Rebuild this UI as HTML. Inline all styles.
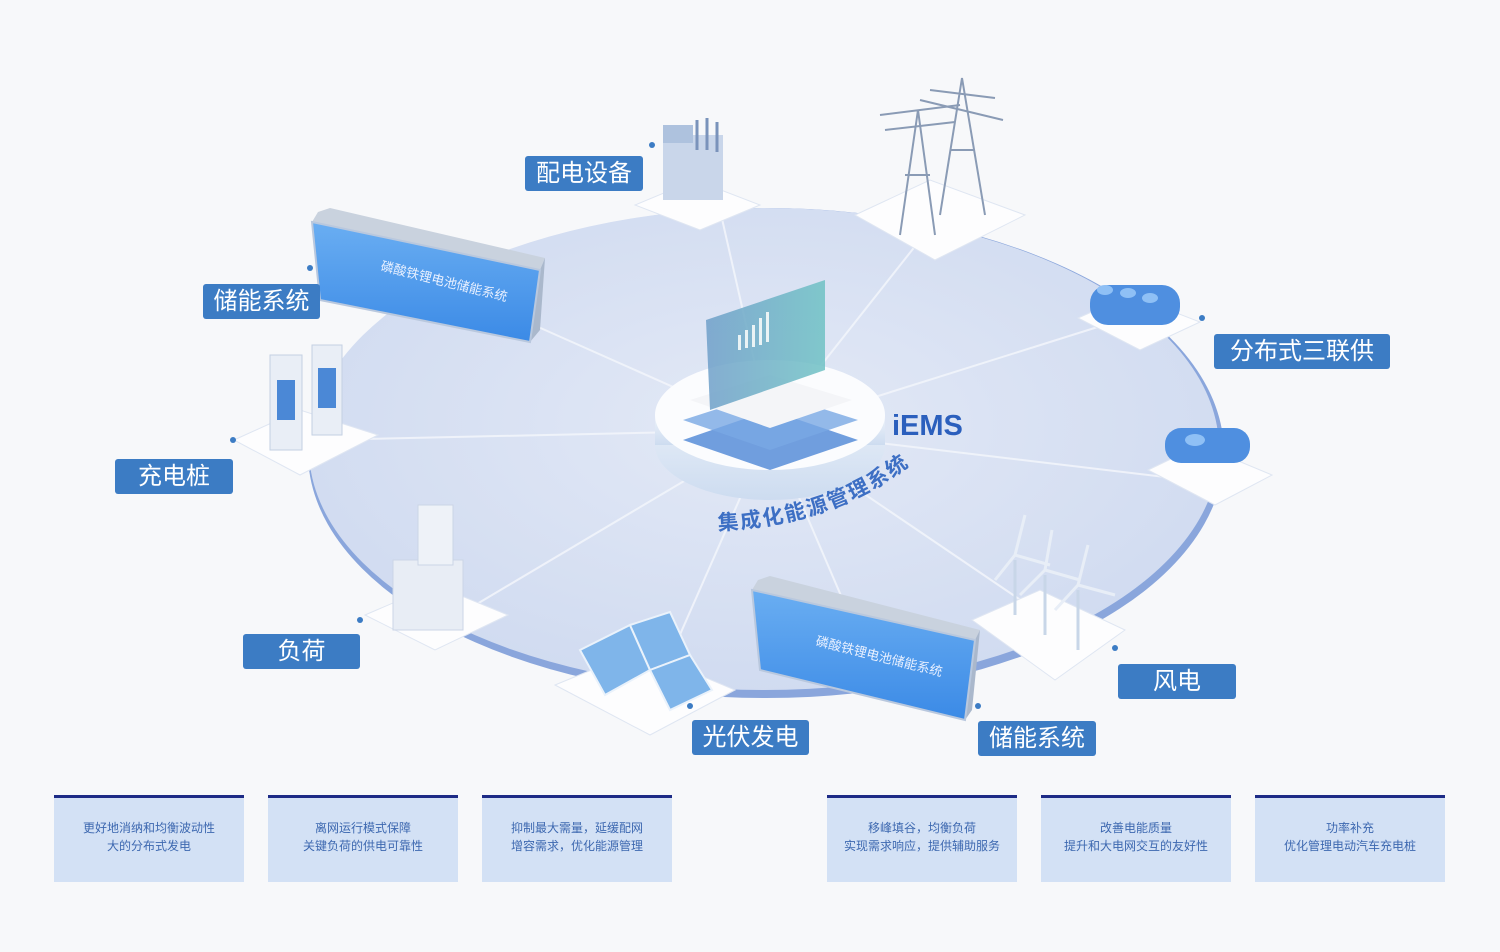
<!DOCTYPE html>
<html><head><meta charset="utf-8"><style>
body{margin:0;background:#f7f8fa;width:1500px;height:952px;overflow:hidden;font-family:"Liberation Sans","Noto Sans CJK SC",sans-serif}
.lab{position:absolute;background:#3c7cc4;color:#fff;font-size:24px;text-align:center;line-height:35px;height:35px;border-radius:3px}
.box{position:absolute;top:795px;width:190px;height:87px;background:#d3e1f5;border-top:3px solid #1d2b86;color:#3d68b0;font-size:12px;text-align:center;line-height:18px;box-sizing:border-box;padding-top:21px}
</style></head><body>
<svg width="1500" height="952" style="position:absolute;left:0;top:0">
<defs>
<radialGradient id="g1" cx="50%" cy="45%" r="60%"><stop offset="0" stop-color="#e3e9f6"/><stop offset="1" stop-color="#cfdaf0"/></radialGradient>
<linearGradient id="card" x1="0" y1="0" x2="1" y2="0"><stop offset="0" stop-color="#6f9fc9" stop-opacity=".85"/><stop offset="1" stop-color="#6fc2c4" stop-opacity=".85"/></linearGradient>
<linearGradient id="bat" x1="0" y1="0" x2="0" y2="1"><stop offset="0" stop-color="#6aaef2"/><stop offset="1" stop-color="#3b8ae6"/></linearGradient>
<linearGradient id="side" x1="0" y1="0" x2="0" y2="1"><stop offset="0" stop-color="#eef3fa"/><stop offset="1" stop-color="#cddcf0"/></linearGradient>
</defs>
<ellipse cx="766" cy="453" rx="458" ry="245" fill="#8aa6dc"/>
<ellipse cx="764" cy="449" rx="455" ry="241" fill="url(#g1)"/>
<g stroke="#f2f5fb" stroke-width="2" opacity=".9">
<line x1="770" y1="430" x2="720" y2="210"/><line x1="770" y1="430" x2="920" y2="240"/>
<line x1="770" y1="430" x2="1120" y2="320"/><line x1="770" y1="430" x2="1190" y2="480"/>
<line x1="770" y1="430" x2="1050" y2="620"/><line x1="770" y1="430" x2="860" y2="640"/>
<line x1="770" y1="430" x2="660" y2="680"/><line x1="770" y1="430" x2="450" y2="620"/>
<line x1="770" y1="430" x2="320" y2="440"/><line x1="770" y1="430" x2="500" y2="310"/>
</g>
<g fill="#fdfdfe" stroke="#dfe6f2">
<polygon points="635,205 695,180 760,205 700,230"/>
<polygon points="855,215 930,180 1025,215 935,260"/>
<polygon points="1078,318 1130,295 1200,322 1140,350"/>
<polygon points="1148,470 1200,445 1272,475 1215,505"/>
<polygon points="972,620 1040,590 1125,630 1055,680"/>
<polygon points="555,685 640,650 735,690 650,735"/>
<polygon points="365,615 435,585 508,615 435,650"/>
<polygon points="234,440 300,410 378,435 300,475"/>
</g>
<rect x="663" y="135" width="60" height="65" fill="#c9d6ea"/><rect x="663" y="125" width="30" height="18" fill="#aec2de"/>
<g stroke="#7a93bb" stroke-width="3"><line x1="697" y1="120" x2="697" y2="150"/><line x1="707" y1="118" x2="707" y2="150"/><line x1="717" y1="122" x2="717" y2="152"/></g>
<g stroke="#8a9bb5" stroke-width="2" fill="none">
<path d="M900 235 L918 110 L935 235 M880 115 L960 105 M885 130 L955 122 M905 175 L930 175"/>
<path d="M940 215 L962 78 L985 215 M920 100 L1003 120 M930 90 L995 98 M950 150 L975 150"/>
</g>
<g fill="#4f8fe0"><rect x="1090" y="285" width="90" height="40" rx="18"/><rect x="1165" y="428" width="85" height="35" rx="16"/></g>
<g fill="#8fc0f5"><ellipse cx="1105" cy="290" rx="8" ry="5"/><ellipse cx="1128" cy="293" rx="8" ry="5"/><ellipse cx="1150" cy="298" rx="8" ry="5"/><ellipse cx="1195" cy="440" rx="10" ry="6"/></g>
<g stroke="#c8d6e8" stroke-width="3"><line x1="1015" y1="560" x2="1015" y2="615"/><line x1="1045" y1="575" x2="1045" y2="635"/><line x1="1078" y1="590" x2="1078" y2="650"/></g>
<g stroke="#e8eef7" stroke-width="3"><path d="M1015 555 L1025 515 M1015 555 L995 580 M1015 555 L1050 565"/><path d="M1045 570 L1052 530 M1045 570 L1020 595 M1045 570 L1080 580"/><path d="M1078 585 L1088 545 M1078 585 L1055 610 M1078 585 L1115 595"/></g>
<g fill="#7fb5ea" stroke="#eaf2fb" stroke-width="2"><polygon points="580,650 630,625 650,670 605,695"/><polygon points="630,625 670,612 690,655 650,670"/><polygon points="650,670 690,655 712,690 670,710"/></g>
<rect x="393" y="560" width="70" height="70" fill="#e8edf5" stroke="#cbd5e6"/><rect x="418" y="505" width="35" height="60" fill="#eef2f8" stroke="#cbd5e6"/>
<rect x="270" y="355" width="32" height="95" fill="#e9eef6" stroke="#c4d0e3"/><rect x="312" y="345" width="30" height="90" fill="#e9eef6" stroke="#c4d0e3"/>
<rect x="277" y="380" width="18" height="40" fill="#4b88d6"/><rect x="318" y="368" width="18" height="40" fill="#4b88d6"/>
<polygon points="318,212 330,208 545,258 540,270 312,222" fill="#c9d2de"/>
<polygon points="540,270 545,258 540,330 530,342" fill="#aab8cc"/>
<polygon points="312,222 540,270 530,342 320,300" fill="url(#bat)" stroke="#b9c8de" stroke-width="2"/>
<polygon points="758,580 770,576 980,630 975,640 752,590" fill="#c9d2de"/>
<polygon points="975,640 980,630 972,710 965,720" fill="#aab8cc"/>
<polygon points="752,590 975,640 965,720 760,670" fill="url(#bat)" stroke="#b9c8de" stroke-width="2"/>
<text x="380" y="270" font-size="13" fill="#e8f0ff" transform="rotate(14 380 270)">磷酸铁锂电池储能系统</text>
<text x="815" y="645" font-size="13" fill="#e8f0ff" transform="rotate(14 815 645)">磷酸铁锂电池储能系统</text>
<ellipse cx="770" cy="445" rx="115" ry="55" fill="url(#side)"/>
<rect x="655" y="415" width="230" height="30" fill="url(#side)"/>
<ellipse cx="770" cy="415" rx="115" ry="55" fill="#fbfcfe"/>
<polygon points="683,440 770,410 858,440 770,470" fill="#4e86d6" opacity=".8"/>
<polygon points="683,420 770,392 858,420 770,450" fill="#79a8e4" opacity=".8"/>
<polygon points="690,400 770,375 852,400 770,428" fill="#f4f5f8"/>
<polygon points="706,320 825,280 825,370 710,410" fill="url(#card)"/>
<g fill="#eaf3f5"><rect x="738" y="335" width="3" height="15"/><rect x="745" y="330" width="3" height="18"/><rect x="752" y="325" width="3" height="22"/><rect x="759" y="318" width="3" height="27"/><rect x="766" y="312" width="3" height="30"/></g>
<text x="892" y="435" font-size="29" font-weight="bold" fill="#2b5fbd">iEMS</text>
<path id="arc" d="M718 530 Q840 525 918 458" fill="none"/>
<text font-size="21" font-weight="bold" fill="#3d6fc4" letter-spacing="2"><textPath href="#arc">集成化能源管理系统</textPath></text>
<g fill="#3c7cc4"><circle cx="652" cy="145" r="3"/><circle cx="310" cy="268" r="3"/><circle cx="233" cy="440" r="3"/><circle cx="360" cy="620" r="3"/><circle cx="690" cy="706" r="3"/><circle cx="978" cy="706" r="3"/><circle cx="1115" cy="648" r="3"/><circle cx="1202" cy="318" r="3"/></g>
</svg>
<div class="lab" style="left:525px;top:156px;width:118px">配电设备</div>
<div class="lab" style="left:203px;top:284px;width:117px">储能系统</div>
<div class="lab" style="left:115px;top:459px;width:118px">充电桩</div>
<div class="lab" style="left:243px;top:634px;width:117px">负荷</div>
<div class="lab" style="left:692px;top:720px;width:117px">光伏发电</div>
<div class="lab" style="left:978px;top:721px;width:118px">储能系统</div>
<div class="lab" style="left:1118px;top:664px;width:118px">风电</div>
<div class="lab" style="left:1214px;top:334px;width:176px">分布式三联供</div>
<div class="box" style="left:54px">更好地消纳和均衡波动性<br>大的分布式发电</div>
<div class="box" style="left:268px">离网运行模式保障<br>关键负荷的供电可靠性</div>
<div class="box" style="left:482px">抑制最大需量，延缓配网<br>增容需求，优化能源管理</div>
<div class="box" style="left:827px">移峰填谷，均衡负荷<br>实现需求响应，提供辅助服务</div>
<div class="box" style="left:1041px">改善电能质量<br>提升和大电网交互的友好性</div>
<div class="box" style="left:1255px">功率补充<br>优化管理电动汽车充电桩</div>
</body></html>
